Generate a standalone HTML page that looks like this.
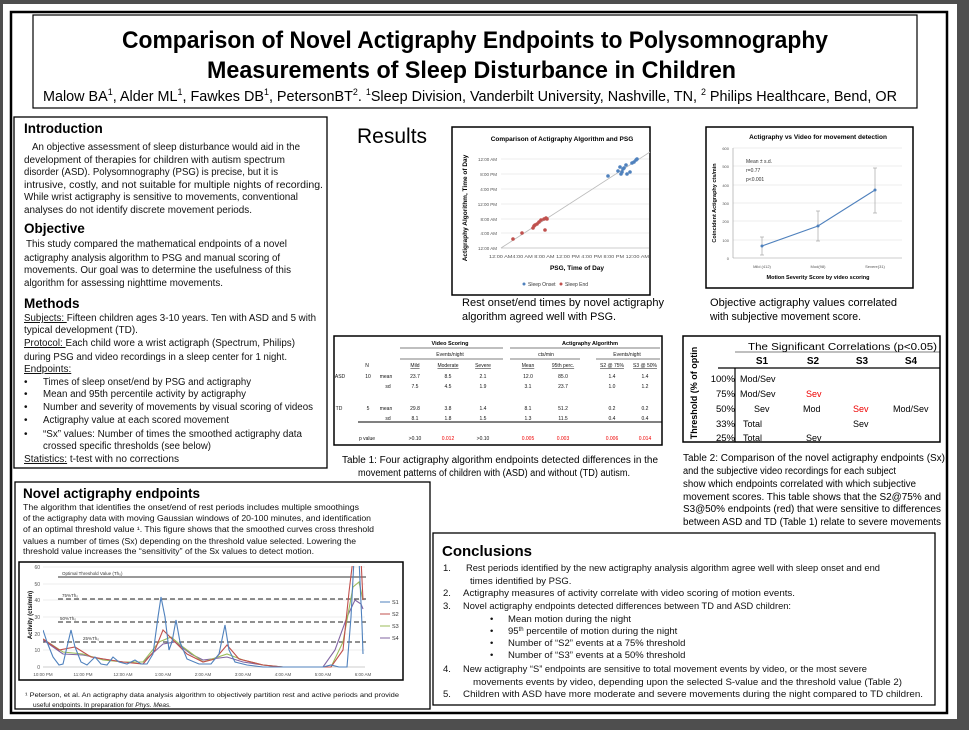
<!DOCTYPE html>
<html><head><meta charset="utf-8"><style>
html,body{margin:0;padding:0;background:#4e4e4e;}
svg{display:block;font-family:"Liberation Sans",sans-serif;}
text{font-family:"Liberation Sans",sans-serif;}
</style></head><body>
<svg width="969" height="730" viewBox="0 0 969 730" xmlns="http://www.w3.org/2000/svg" font-family="Liberation Sans, sans-serif">
<rect x="0" y="0" width="969" height="730" fill="#4e4e4e"/>
<rect x="3" y="4" width="954" height="715" fill="#fff"/>
<rect x="11" y="12" width="936" height="701" fill="none" stroke="#000" stroke-width="2.5"/>

<!-- Header -->
<rect x="33" y="15" width="884" height="93" fill="#fff" stroke="#000" stroke-width="1.2"/>
<text x="122" y="48" font-size="24" font-weight="bold" textLength="706" lengthAdjust="spacingAndGlyphs">Comparison of Novel Actigraphy Endpoints to Polysomnography</text>
<text x="207" y="78" font-size="24" font-weight="bold" textLength="529" lengthAdjust="spacingAndGlyphs">Measurements of Sleep Disturbance in Children</text>
<text x="43" y="101" font-size="14.5" textLength="854" lengthAdjust="spacingAndGlyphs">Malow BA<tspan font-size="9" dy="-6">1</tspan><tspan dy="6">, Alder ML</tspan><tspan font-size="9" dy="-6">1</tspan><tspan dy="6">, Fawkes DB</tspan><tspan font-size="9" dy="-6">1</tspan><tspan dy="6">, PetersonBT</tspan><tspan font-size="9" dy="-6">2</tspan><tspan dy="6">.  </tspan><tspan font-size="9" dy="-6">1</tspan><tspan dy="6">Sleep Division, Vanderbilt University, Nashville, TN, </tspan><tspan font-size="9" dy="-6">2</tspan><tspan dy="6"> Philips Healthcare, Bend, OR</tspan></text>

<!-- Intro box -->
<rect x="14" y="117" width="313" height="351" fill="none" stroke="#000" stroke-width="1.3"/>
<g font-size="10" fill="#111">
<text x="24" y="133" font-size="13.5" font-weight="bold" fill="#000">Introduction</text>
<text x="32" y="150" textLength="268" lengthAdjust="spacingAndGlyphs">An objective assessment of sleep disturbance would aid in the</text>
<text x="24" y="163" textLength="261" lengthAdjust="spacingAndGlyphs">development of therapies for children with autism spectrum</text>
<text x="24" y="175" textLength="254" lengthAdjust="spacingAndGlyphs">disorder (ASD).  Polysomnography (PSG) is precise, but it is</text>
<text x="24" y="188" textLength="299" lengthAdjust="spacingAndGlyphs">intrusive, costly, and not suitable for multiple nights of recording.</text>
<text x="24" y="200" textLength="274" lengthAdjust="spacingAndGlyphs">While wrist actigraphy is sensitive to movements, conventional</text>
<text x="24" y="213" textLength="228" lengthAdjust="spacingAndGlyphs">analyses do not identify discrete movement periods.</text>
<text x="24" y="233" font-size="13.5" font-weight="bold" fill="#000">Objective</text>
<text x="26" y="247" textLength="261" lengthAdjust="spacingAndGlyphs">This study compared the mathematical endpoints of a novel</text>
<text x="24" y="261" textLength="256" lengthAdjust="spacingAndGlyphs">actigraphy analysis algorithm to PSG and manual scoring of</text>
<text x="24" y="273" textLength="267" lengthAdjust="spacingAndGlyphs">movements. Our goal was to determine the usefulness of this</text>
<text x="24" y="286" textLength="199" lengthAdjust="spacingAndGlyphs">algorithm for assessing nighttime movements.</text>
<text x="24" y="308" font-size="13.5" font-weight="bold" fill="#000">Methods</text>
<text x="24" y="321" textLength="292" lengthAdjust="spacingAndGlyphs"><tspan text-decoration="underline">Subjects: </tspan> Fifteen children ages 3-10 years. Ten with ASD and 5 with</text>
<text x="24" y="333">typical development (TD).</text>
<text x="24" y="346" textLength="271" lengthAdjust="spacingAndGlyphs"><tspan text-decoration="underline">Protocol: </tspan> Each child wore a wrist actigraph (Spectrum, Philips)</text>
<text x="24" y="360" textLength="263" lengthAdjust="spacingAndGlyphs">during PSG and video recordings in a sleep center for 1 night.</text>
<text x="24" y="372" text-decoration="underline">Endpoints:</text>
<text x="24" y="385">•</text><text x="43" y="385" textLength="208" lengthAdjust="spacingAndGlyphs">Times of sleep onset/end by PSG and actigraphy</text>
<text x="24" y="397">•</text><text x="43" y="397" textLength="203" lengthAdjust="spacingAndGlyphs">Mean and 95th percentile activity by actigraphy</text>
<text x="24" y="410">•</text><text x="43" y="410" textLength="270" lengthAdjust="spacingAndGlyphs">Number and severity of movements by visual scoring of videos</text>
<text x="24" y="423">•</text><text x="43" y="423" textLength="186" lengthAdjust="spacingAndGlyphs">Actigraphy value at each scored movement</text>
<text x="24" y="437">•</text><text x="43" y="437" textLength="259" lengthAdjust="spacingAndGlyphs">“Sx” values: Number of times the smoothed actigraphy data</text>
<text x="43" y="449" textLength="168" lengthAdjust="spacingAndGlyphs">crossed specific thresholds (see below)</text>
<text x="24" y="462" textLength="155" lengthAdjust="spacingAndGlyphs"><tspan text-decoration="underline">Statistics:</tspan>  t-test with no corrections</text>
</g>

<!-- Novel box -->
<rect x="15" y="482" width="415" height="227" fill="none" stroke="#000" stroke-width="1.3"/>
<text x="23" y="498" font-size="13.5" font-weight="bold">Novel actigraphy endpoints</text>
<g font-size="8" fill="#111">
<text x="23" y="510" textLength="336" lengthAdjust="spacingAndGlyphs">The algorithm that identifies the onset/end of rest periods includes multiple smoothings</text>
<text x="23" y="521" textLength="348" lengthAdjust="spacingAndGlyphs">of the actigraphy data with moving Gaussian windows of 20-100 minutes, and identification</text>
<text x="23" y="532" textLength="351" lengthAdjust="spacingAndGlyphs">of an optimal threshold value ¹.  This figure shows that the smoothed curves cross threshold</text>
<text x="23" y="544" textLength="333" lengthAdjust="spacingAndGlyphs">values a number of times (Sx) depending on the threshold value selected.  Lowering the</text>
<text x="23" y="554" textLength="291" lengthAdjust="spacingAndGlyphs">threshold value increases the “sensitivity” of the Sx values to detect motion.</text>
</g>
<rect x="19" y="562" width="384" height="118" fill="#fff" stroke="#000" stroke-width="1.5"/>
<g font-size="5" fill="#555" text-anchor="end">
<text x="40" y="569">60</text><text x="40" y="586">50</text><text x="40" y="602">40</text><text x="40" y="619">30</text><text x="40" y="636">20</text><text x="40" y="652">10</text><text x="40" y="669">0</text>
</g>
<g stroke="#ddd" stroke-width="0.5">
<line x1="43" y1="567" x2="365" y2="567"/><line x1="43" y1="584" x2="365" y2="584"/><line x1="43" y1="600" x2="365" y2="600"/><line x1="43" y1="617" x2="365" y2="617"/><line x1="43" y1="634" x2="365" y2="634"/><line x1="43" y1="650" x2="365" y2="650"/>
</g>
<line x1="43" y1="667" x2="365" y2="667" stroke="#999" stroke-width="0.6"/>
<g font-size="4.5" fill="#555" text-anchor="middle">
<text x="43" y="676">10:00 PM</text><text x="83" y="676">11:00 PM</text><text x="123" y="676">12:00 AM</text><text x="163" y="676">1:00 AM</text><text x="203" y="676">2:00 AM</text><text x="243" y="676">3:00 AM</text><text x="283" y="676">4:00 AM</text><text x="323" y="676">5:00 AM</text><text x="363" y="676">6:00 AM</text>
</g>
<text transform="translate(32,615) rotate(-90)" font-size="6" font-weight="bold" text-anchor="middle">Activity (cts/min)</text>
<line x1="58" y1="577" x2="366" y2="577" stroke="#333" stroke-width="1"/>
<line x1="58" y1="599" x2="366" y2="599" stroke="#222" stroke-width="1" stroke-dasharray="5,3"/>
<line x1="58" y1="622" x2="366" y2="622" stroke="#222" stroke-width="1" stroke-dasharray="5,3"/>
<line x1="43" y1="642" x2="366" y2="642" stroke="#222" stroke-width="1" stroke-dasharray="5,3"/>
<g font-size="4.5" fill="#333">
<text x="62" y="575">Optimal Threshold Value (Th₀)</text>
<text x="62" y="597">75%Th₀</text><text x="60" y="620">50%Th₀</text><text x="83" y="640">25%Th₀</text>
</g>
<defs><clipPath id="pc"><rect x="43" y="566" width="323" height="102"/></clipPath></defs>
<g clip-path="url(#pc)" fill="none" stroke-width="1.1">
<polyline stroke="#8064a2" points="43,640 63,654 83,655 103,659 123,662 143,662 163,644 175,642 191,654 203,660 227,657 243,662 263,665 283,667 323,667 335,650 347,617 355,600 361,604 363,609"/>
<polyline stroke="#9bbb59" points="43,639 63,652 83,654 103,660 123,662 143,662 159,642 171,637 183,647 203,662 227,654 243,660 263,665 283,667 331,667 343,642 353,587 359,582 363,600"/>
<polyline stroke="#c0504d" points="43,639 59,650 75,647 91,657 123,662 143,664 155,650 163,630 175,642 187,654 203,662 215,659 227,645 239,659 263,665 283,667 331,667 343,650 349,592 353,559 361,559 363,600"/>
<polyline stroke="#4f81bd" points="43,630 47,642 53,657 59,665 63,664 67,647 71,630 75,647 81,662 87,665 95,657 101,664 107,665 113,657 119,662 127,664 135,660 141,664 147,664 153,654 158,617 161,597 165,617 169,650 172,642 176,620 180,642 187,659 199,664 211,664 219,654 225,625 229,650 235,662 247,665 263,667 283,667 323,667 331,665 339,667 347,667 351,617 354,559 359,559 362,625 363,654"/>
</g>
<g font-size="5.5" fill="#333">
<line x1="380" y1="602" x2="390" y2="602" stroke="#4f81bd"/><text x="392" y="604">S1</text>
<line x1="380" y1="614" x2="390" y2="614" stroke="#c0504d"/><text x="392" y="616">S2</text>
<line x1="380" y1="626" x2="390" y2="626" stroke="#9bbb59"/><text x="392" y="628">S3</text>
<line x1="380" y1="638" x2="390" y2="638" stroke="#8064a2"/><text x="392" y="640">S4</text>
</g>
<g font-size="6.5" fill="#111">
<text x="25" y="697" textLength="374" lengthAdjust="spacingAndGlyphs">¹ Peterson, et al.  An actigraphy data analysis algorithm to objectively partition rest and active periods and provide</text>
<text x="33" y="707">useful endpoints.  In preparation for <tspan font-style="italic">Phys. Meas.</tspan></text>
</g>

<!-- Results -->
<text x="357" y="143" font-size="21">Results</text>

<!-- Chart 1 -->
<rect x="452" y="127" width="198" height="168" fill="#fff" stroke="#000" stroke-width="1.5"/>
<text x="562" y="141" font-size="6.5" font-weight="bold" text-anchor="middle">Comparison  of Actigraphy Algorithm and PSG</text>
<g stroke="#ddd" stroke-width="0.5">
<line x1="501" y1="159" x2="649" y2="159"/><line x1="501" y1="174" x2="649" y2="174"/><line x1="501" y1="189" x2="649" y2="189"/><line x1="501" y1="204" x2="649" y2="204"/><line x1="501" y1="219" x2="649" y2="219"/><line x1="501" y1="233" x2="649" y2="233"/>
</g>
<line x1="501" y1="248" x2="649" y2="248" stroke="#999" stroke-width="0.6"/>
<line x1="501" y1="248" x2="650" y2="152" stroke="#bbb" stroke-width="0.8"/>
<g font-size="4.5" fill="#555" text-anchor="end">
<text x="497" y="161">12:00 AM</text><text x="497" y="176">8:00 PM</text><text x="497" y="191">4:00 PM</text><text x="497" y="206">12:00 PM</text><text x="497" y="221">8:00 AM</text><text x="497" y="235">4:00 AM</text><text x="497" y="250">12:00 AM</text>
</g>
<text x="489" y="258" font-size="4.5" fill="#555" textLength="160" lengthAdjust="spacingAndGlyphs">12:00 AM4:00 AM  8:00 AM 12:00 PM 4:00 PM  8:00 PM 12:00 AM</text>
<text x="577" y="270" font-size="6.5" font-weight="bold" text-anchor="middle">PSG, Time of Day</text>
<text transform="translate(467,208) rotate(-90)" font-size="6.5" font-weight="bold" text-anchor="middle">Actigraphy Algorithm, Time of Day</text>
<g fill="#4f81bd">
<circle cx="608" cy="176" r="1.8"/><circle cx="618" cy="171" r="1.8"/><circle cx="620" cy="167" r="1.8"/><circle cx="622" cy="172" r="1.8"/><circle cx="624" cy="168" r="1.8"/><circle cx="626" cy="165" r="1.8"/><circle cx="623" cy="169" r="1.8"/><circle cx="627" cy="174" r="1.8"/><circle cx="630" cy="172" r="1.8"/><circle cx="632" cy="163" r="1.8"/><circle cx="634" cy="162" r="1.8"/><circle cx="636" cy="160" r="1.8"/><circle cx="637" cy="159" r="1.8"/><circle cx="621" cy="174" r="1.8"/>
</g>
<g fill="#c0504d">
<circle cx="513" cy="239" r="1.8"/><circle cx="522" cy="233" r="1.8"/><circle cx="533" cy="228" r="1.8"/><circle cx="534" cy="226" r="1.8"/><circle cx="535" cy="225" r="1.8"/><circle cx="537" cy="224" r="1.8"/><circle cx="539" cy="222" r="1.8"/><circle cx="541" cy="220" r="1.8"/><circle cx="544" cy="219" r="1.8"/><circle cx="546" cy="218" r="1.8"/><circle cx="545" cy="230" r="1.8"/><circle cx="547" cy="219" r="1.8"/>
</g>
<g font-size="5" fill="#333">
<circle cx="524" cy="284" r="1.5" fill="#4f81bd"/><text x="528" y="286">Sleep Onset</text>
<circle cx="561" cy="284" r="1.5" fill="#c0504d"/><text x="565" y="286">Sleep End</text>
</g>
<text x="462" y="306" font-size="11" textLength="202" lengthAdjust="spacingAndGlyphs">Rest onset/end times by novel actigraphy</text>
<text x="462" y="320" font-size="11" textLength="154" lengthAdjust="spacingAndGlyphs">algorithm agreed well with PSG.</text>

<!-- Chart 2 -->
<rect x="706" y="127" width="207" height="161" fill="#fff" stroke="#000" stroke-width="1.5"/>
<text x="818" y="139" font-size="6.5" font-weight="bold" text-anchor="middle">Actigraphy vs Video for movement detection</text>
<g stroke="#ddd" stroke-width="0.5">
<line x1="733" y1="148" x2="902" y2="148"/><line x1="733" y1="166" x2="902" y2="166"/><line x1="733" y1="185" x2="902" y2="185"/><line x1="733" y1="203" x2="902" y2="203"/><line x1="733" y1="221" x2="902" y2="221"/><line x1="733" y1="240" x2="902" y2="240"/>
</g>
<line x1="733" y1="148" x2="733" y2="258" stroke="#999" stroke-width="0.6"/>
<line x1="733" y1="258" x2="902" y2="258" stroke="#999" stroke-width="0.6"/>
<g font-size="4" fill="#555" text-anchor="end">
<text x="729" y="150">600</text><text x="729" y="168">500</text><text x="729" y="187">400</text><text x="729" y="205">300</text><text x="729" y="223">200</text><text x="729" y="242">100</text><text x="729" y="260">0</text>
</g>
<g font-size="4" fill="#555" text-anchor="middle">
<text x="762" y="268">Mild (412)</text><text x="818" y="268">Mod(98)</text><text x="875" y="268">Severe(31)</text>
</g>
<text x="818" y="279" font-size="5.5" font-weight="bold" text-anchor="middle">Motion Severity Score by video scoring</text>
<text transform="translate(716,203) rotate(-90)" font-size="5.5" font-weight="bold" text-anchor="middle">Coincident Actigraphy cts/min</text>
<g font-size="5" fill="#333"><text x="746" y="163">Mean ± s.d.</text><text x="746" y="172">r=0.77</text><text x="746" y="181">p&lt;0.001</text></g>
<g stroke="#999" stroke-width="0.6">
<line x1="762" y1="255" x2="762" y2="237"/><line x1="760" y1="255" x2="764" y2="255"/><line x1="760" y1="237" x2="764" y2="237"/>
<line x1="818" y1="241" x2="818" y2="211"/><line x1="816" y1="241" x2="820" y2="241"/><line x1="816" y1="211" x2="820" y2="211"/>
<line x1="875" y1="213" x2="875" y2="168"/><line x1="873" y1="213" x2="877" y2="213"/><line x1="873" y1="168" x2="877" y2="168"/>
</g>
<polyline points="762,246 818,226 875,190" fill="none" stroke="#4f81bd" stroke-width="1.1"/>
<g fill="#4f81bd"><circle cx="762" cy="246" r="1.5"/><circle cx="818" cy="226" r="1.5"/><circle cx="875" cy="190" r="1.5"/></g>
<text x="710" y="306" font-size="11" textLength="187" lengthAdjust="spacingAndGlyphs">Objective actigraphy values correlated</text>
<text x="710" y="320" font-size="11" textLength="151" lengthAdjust="spacingAndGlyphs">with subjective movement score.</text>

<!-- Table 1 -->
<rect x="334" y="336" width="328" height="109" fill="#fff" stroke="#000" stroke-width="1.5"/>
<g font-size="5.5" font-weight="bold" text-anchor="middle">
<text x="450" y="345">Video Scoring</text><text x="590" y="345">Actigraphy Algorithm</text>
</g>
<g stroke="#000" stroke-width="0.6">
<line x1="400" y1="348" x2="503" y2="348"/><line x1="510" y1="348" x2="660" y2="348"/>
<line x1="400" y1="359" x2="503" y2="359"/><line x1="510" y1="359" x2="580" y2="359"/><line x1="596" y1="359" x2="660" y2="359"/>
<line x1="358" y1="422" x2="662" y2="422" stroke-width="0.9"/>
</g>
<g font-size="5" text-anchor="middle" fill="#111">
<text x="450" y="356">Events/night</text><text x="546" y="356">cts/min</text><text x="627" y="356">Events/night</text>
<text x="367" y="367">N</text>
<text x="415" y="367" text-decoration="underline">Mild</text><text x="448" y="367" text-decoration="underline">Moderate</text><text x="483" y="367" text-decoration="underline">Severe</text>
<text x="528" y="367" text-decoration="underline">Mean</text><text x="563" y="367" text-decoration="underline">95th perc.</text><text x="612" y="367" text-decoration="underline">S2 @ 75%</text><text x="645" y="367" text-decoration="underline">S3 @ 50%</text>
<text x="340" y="378">ASD</text><text x="368" y="378">10</text><text x="386" y="378">mean</text>
<text x="415" y="378">23.7</text><text x="448" y="378">8.5</text><text x="483" y="378">2.1</text><text x="528" y="378">12.0</text><text x="563" y="378">85.0</text><text x="612" y="378">1.4</text><text x="645" y="378">1.4</text>
<text x="388" y="388">sd</text>
<text x="415" y="388">7.5</text><text x="448" y="388">4.5</text><text x="483" y="388">1.9</text><text x="528" y="388">3.1</text><text x="563" y="388">23.7</text><text x="612" y="388">1.0</text><text x="645" y="388">1.2</text>
<text x="339" y="410">TD</text><text x="368" y="410">5</text><text x="386" y="410">mean</text>
<text x="415" y="410">29.8</text><text x="448" y="410">3.8</text><text x="483" y="410">1.4</text><text x="528" y="410">8.1</text><text x="563" y="410">51.2</text><text x="612" y="410">0.2</text><text x="645" y="410">0.2</text>
<text x="388" y="420">sd</text>
<text x="415" y="420">8.1</text><text x="448" y="420">1.8</text><text x="483" y="420">1.5</text><text x="528" y="420">1.3</text><text x="563" y="420">11.5</text><text x="612" y="420">0.4</text><text x="645" y="420">0.4</text>
<text x="367" y="440">p value</text>
<text x="415" y="440">&gt;0.10</text><text x="448" y="440" fill="#e00">0.012</text><text x="483" y="440">&gt;0.10</text><text x="528" y="440" fill="#e00">0.005</text><text x="563" y="440" fill="#e00">0.003</text><text x="612" y="440" fill="#e00">0.006</text><text x="645" y="440" fill="#e00">0.014</text>
</g>
<text x="342" y="463" font-size="10" textLength="316" lengthAdjust="spacingAndGlyphs">Table 1: Four actigraphy algorithm endpoints detected differences in the</text>
<text x="358" y="476" font-size="10" textLength="272" lengthAdjust="spacingAndGlyphs">movement patterns of children with (ASD) and without (TD) autism.</text>

<!-- Table 2 -->
<rect x="683" y="336" width="257" height="106" fill="#fff" stroke="#000" stroke-width="1.5"/>
<text x="748" y="350" font-size="10" font-family="Liberation Sans, sans-serif" textLength="189" lengthAdjust="spacingAndGlyphs">The Significant Correlations (p&lt;0.05)</text>
<line x1="735" y1="352" x2="940" y2="352" stroke="#000" stroke-width="0.6"/>
<g font-size="10" font-weight="bold" text-anchor="middle">
<text x="762" y="364">S1</text><text x="813" y="364">S2</text><text x="862" y="364">S3</text><text x="911" y="364">S4</text>
</g>
<line x1="718" y1="368" x2="940" y2="368" stroke="#000" stroke-width="1.2"/>
<line x1="735" y1="368" x2="735" y2="442" stroke="#000" stroke-width="1.2"/>
<text transform="translate(697,393) rotate(-90)" font-size="9" font-weight="bold" text-anchor="middle">Threshold (% of optin</text>
<g font-size="9.5" text-anchor="end"><text x="735" y="382">100%</text><text x="735" y="397">75%</text><text x="735" y="412">50%</text><text x="735" y="427">33%</text><text x="735" y="441">25%</text></g>
<g font-size="9">
<text x="740" y="382">Mod/Sev</text><text x="740" y="397">Mod/Sev</text><text x="806" y="397" fill="#e00">Sev</text>
<text x="754" y="412">Sev</text><text x="803" y="412">Mod</text><text x="853" y="412" fill="#e00">Sev</text><text x="893" y="412">Mod/Sev</text>
<text x="743" y="427">Total</text><text x="853" y="427">Sev</text>
<text x="743" y="441">Total</text><text x="806" y="441">Sev</text>
</g>
<g font-size="10">
<text x="683" y="461" textLength="262" lengthAdjust="spacingAndGlyphs">Table 2: Comparison of the novel actigraphy endpoints (Sx)</text>
<text x="683" y="474" textLength="213" lengthAdjust="spacingAndGlyphs">and the subjective video recordings for each subject</text>
<text x="683" y="487" textLength="233" lengthAdjust="spacingAndGlyphs">show which endpoints correlated with which subjective</text>
<text x="683" y="500" textLength="258" lengthAdjust="spacingAndGlyphs">movement scores.  This table shows that the S2@75% and</text>
<text x="683" y="512" textLength="258" lengthAdjust="spacingAndGlyphs">S3@50% endpoints (red) that were sensitive to differences</text>
<text x="683" y="525" textLength="258" lengthAdjust="spacingAndGlyphs">between ASD and TD (Table 1) relate to severe movements</text>
</g>

<!-- Conclusions -->
<rect x="433" y="533" width="502" height="172" fill="#fff" stroke="#000" stroke-width="1.3"/>
<text x="442" y="556" font-size="15" font-weight="bold">Conclusions</text>
<g font-size="9.5" fill="#111">
<text x="443" y="571">1.</text><text x="466" y="571" textLength="414" lengthAdjust="spacingAndGlyphs">Rest periods identified by the new actigraphy analysis algorithm agree well with sleep onset and end</text>
<text x="470" y="584">times identified by PSG.</text>
<text x="443" y="596">2.</text><text x="463" y="596" textLength="332" lengthAdjust="spacingAndGlyphs">Actigraphy measures of activity correlate with video scoring of motion events.</text>
<text x="443" y="609">3.</text><text x="463" y="609" textLength="328" lengthAdjust="spacingAndGlyphs">Novel actigraphy endpoints detected differences between TD and ASD children:</text>
<text x="490" y="622">•</text><text x="508" y="622">Mean motion during the night</text>
<text x="490" y="634">•</text><text x="508" y="634">95<tspan font-size="6" dy="-3">th</tspan><tspan dy="3"> percentile of motion during the night</tspan></text>
<text x="490" y="646">•</text><text x="508" y="646">Number of “S2” events at a 75% threshold</text>
<text x="490" y="658">•</text><text x="508" y="658">Number of “S3” events at a 50% threshold</text>
<text x="443" y="672">4.</text><text x="463" y="672" textLength="404" lengthAdjust="spacingAndGlyphs">New actigraphy “S” endpoints are sensitive to total movement events by video, or the most severe</text>
<text x="473" y="685" textLength="429" lengthAdjust="spacingAndGlyphs">movements events by video, depending upon the selected S-value and the threshold value (Table 2)</text>
<text x="443" y="697">5.</text><text x="463" y="697" textLength="460" lengthAdjust="spacingAndGlyphs">Children with ASD have more moderate and severe movements during the night compared to TD children.</text>
</g>
</svg>
</body></html>
